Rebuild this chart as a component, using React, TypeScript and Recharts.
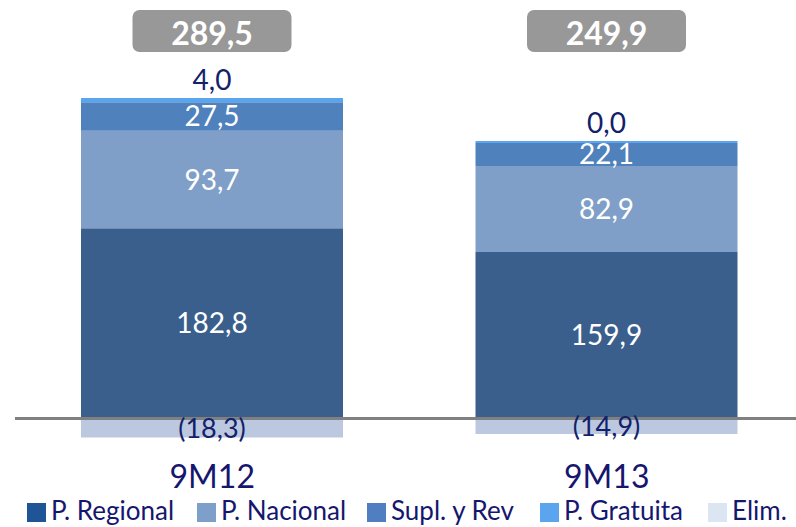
import React from 'react';
import { BarChart, Bar, XAxis, YAxis, LabelList, ReferenceLine } from 'recharts';

const categories = ['9M12', '9M13'];
const pRegional = [182.8, 159.9];
const pNacional = [93.7, 82.9];
const suplRev = [27.5, 22.1];
const pGratuita = [4.0, 0.0];
const elim = [-18.3, -14.9];
const totals = [289.5, 249.9];

const seriesNames = ['P. Regional', 'P. Nacional', 'Supl. y Rev', 'P. Gratuita', 'Elim.'];
const legendColors = ['#1F5596', '#7F9FCB', '#4F7FC0', '#5AA5EE', '#DCE6F2'];

const data = categories.map((c, i) => ({
  name: c,
  regional: pRegional[i],
  nacional: pNacional[i],
  supl: suplRev[i],
  gratuita: pGratuita[i],
  elim: elim[i],
  total: totals[i],
}));

const FONT = 'Lato, "Open Sans", sans-serif';
const NAVY = '#13216A';
const NAVY2 = '#16166E';

const fmt = (v: any) => {
  const n = Number(v);
  const s = Math.abs(n).toFixed(1).replace('.', ',');
  return n < 0 ? `(${s})` : s;
};

const TotalBox = (props: any) => {
  const { x, width, index } = props;
  const cx = Number(x) + Number(width) / 2;
  const w = 159;
  const h = 42;
  return (
    <g>
      <rect x={cx - w / 2} y={10} width={w} height={h} rx={7} ry={7} fill="#989898" />
      <text x={cx} y={32} textAnchor="middle" dominantBaseline="central" fill="#fff" fontWeight="bold" fontSize={32} fontFamily={FONT}>
        {fmt(totals[index])}
      </text>
    </g>
  );
};

const Tick = (props: any) => {
  const { x, y, payload } = props;
  return (
    <text x={x} y={y + 20} textAnchor="middle" fill={NAVY2} fontSize={32} fontFamily={FONT}>
      {payload.value}
    </text>
  );
};

const legendLefts = [27, 197, 367, 540, 708];

export default function App() {
  return (
    <div style={{ position: 'absolute', left: 0, top: 0, width: 796, height: 527, background: '#fff', overflow: 'hidden', fontFamily: FONT }}>
      <BarChart
        width={796}
        height={527}
        data={data}
        stackOffset="sign"
        barSize={262}
        margin={{ top: 96, right: -8, bottom: 37, left: 15 }}
      >
        <YAxis hide domain={[-40, 310]} type="number" allowDataOverflow />
        <XAxis dataKey="name" axisLine={false} tickLine={false} tick={<Tick />} interval={0} height={30} />
        <Bar dataKey="regional" stackId="a" fill="#3B5F8D" isAnimationActive={false}>
          <LabelList dataKey="regional" position="center" fill="#fff" fontSize={28} fontFamily={FONT} formatter={fmt} />
        </Bar>
        <Bar dataKey="nacional" stackId="a" fill="#7F9FC8" isAnimationActive={false}>
          <LabelList dataKey="nacional" position="center" fill="#fff" fontSize={28} fontFamily={FONT} formatter={fmt} />
        </Bar>
        <Bar dataKey="supl" stackId="a" fill="#4F81BD" isAnimationActive={false}>
          <LabelList dataKey="supl" position="center" fill="#fff" fontSize={28} fontFamily={FONT} formatter={fmt} />
        </Bar>
        <Bar dataKey="gratuita" stackId="a" fill="#5AA5EE" minPointSize={2} isAnimationActive={false}>
          <LabelList dataKey="gratuita" position="top" offset={8} fill={NAVY} fontSize={28} fontFamily={FONT} formatter={fmt} />
          <LabelList dataKey="total" content={<TotalBox />} />
        </Bar>
        <Bar dataKey="elim" stackId="a" fill="#BBC8E0" isAnimationActive={false}>
          <LabelList dataKey="elim" position="center" fill={NAVY} fontSize={27} fontFamily={FONT} formatter={fmt} />
        </Bar>
        <ReferenceLine y={0} stroke="#808080" strokeWidth={3} />
      </BarChart>
      {seriesNames.map((n, i) => (
        <div
          key={n}
          style={{ position: 'absolute', left: legendLefts[i], top: 497, height: 27, display: 'flex', alignItems: 'center', whiteSpace: 'nowrap' }}
        >
          <span style={{ display: 'inline-block', width: 19, height: 19, background: legendColors[i], marginRight: 5, marginTop: 4 }} />
          <span style={{ fontSize: 26, color: NAVY2, lineHeight: '27px' }}>{n}</span>
        </div>
      ))}
    </div>
  );
}
